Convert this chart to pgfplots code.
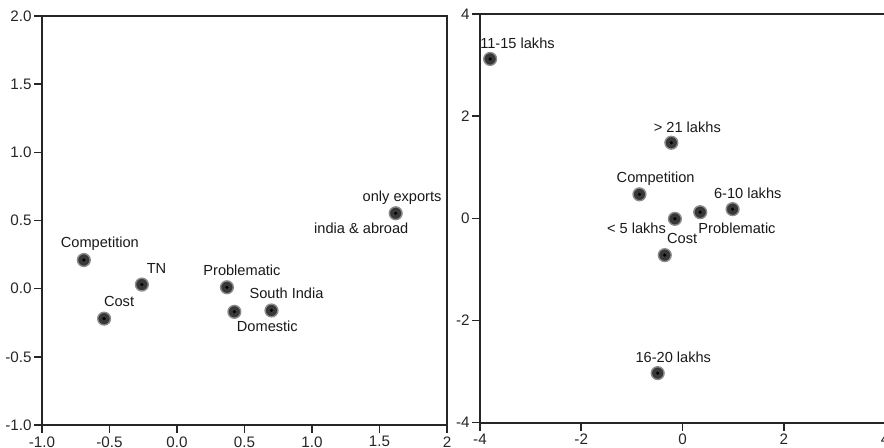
\documentclass[border=0pt]{standalone}
\usepackage{pgfplots}
\pgfplotsset{compat=1.18}
\usepackage{fontspec}
\setmainfont{Liberation Sans}
\newcommand{\lbl}{\fontsize{7.3}{8}\selectfont}
\tikzset{lab/.style={font=\lbl, text=black!90, inner sep=0pt}}
\begin{document}
\begin{tikzpicture}
\path[use as bounding box] (0,0) rectangle (442pt,224pt);
\pgfplotsset{
  mystyle/.style={
    scale only axis, clip=false,
    axis line style={black!85,line width=1pt},
    tick style={black!85,line width=0.8pt},
    tick align=outside, major tick length=4pt,
    xtick pos=left, ytick pos=left,
    ticklabel style={font=\fontsize{7.6}{8}\selectfont, text=black!85},
    xticklabel style={inner sep=1.5pt},
    yticklabel style={inner sep=1pt},
  },
  dots/.style={only marks, mark=*, mark size=3.2pt,
    mark options={fill=black!78, draw=black!45, line width=0.7pt}},
  cdots/.style={only marks, mark=*, mark size=0.6pt,
    mark options={fill=black, draw=black}},
}
% ---------------- left panel ----------------
\begin{axis}[mystyle,
  at={(21pt,11.5pt)}, anchor=south west,
  width=202.5pt, height=204.5pt,
  xmin=-1, xmax=2, ymin=-1, ymax=2,
  xtick={-1,-0.5,0,0.5,1,1.5,2},
  xticklabels={-1.0,-0.5,0.0,0.5,1.0,1.5,2},
  ytick={-1,-0.5,0,0.5,1,1.5,2},
  yticklabels={-1.0,-0.5,0.0,0.5,1.0,1.5,2.0},
]
\addplot[dots] coordinates {
  (-0.69,0.21) (-0.26,0.03) (-0.54,-0.22) (0.37,0.01)
  (0.425,-0.17) (0.70,-0.16) (1.62,0.553)};
\addplot[cdots] coordinates {
  (-0.69,0.21) (-0.26,0.03) (-0.54,-0.22) (0.37,0.01)
  (0.425,-0.17) (0.70,-0.16) (1.62,0.553)};
\node[lab] at ([shift={(8pt,8.2pt)}]axis cs:-0.69,0.21) {Competition};
\node[lab] at ([shift={(7.3pt,7.8pt)}]axis cs:-0.26,0.03) {TN};
\node[lab] at ([shift={(7.5pt,8.7pt)}]axis cs:-0.54,-0.22) {Cost};
\node[lab] at ([shift={(7.5pt,8.3pt)}]axis cs:0.37,0.01) {Problematic};
\node[lab] at ([shift={(7.5pt,8.5pt)}]axis cs:0.70,-0.16) {South India};
\node[lab] at ([shift={(16.5pt,-7.2pt)}]axis cs:0.425,-0.17) {Domestic};
\node[lab,anchor=west] at ([shift={(-16.7pt,7.7pt)}]axis cs:1.62,0.553) {only exports};
\node[lab] at ([shift={(-17.2pt,-7.3pt)}]axis cs:1.62,0.553) {india \& abroad};
\end{axis}
% ---------------- right panel ----------------
\begin{axis}[mystyle,
  at={(240pt,12.65pt)}, anchor=south west,
  width=202.5pt, height=204.35pt,
  xmin=-4, xmax=4, ymin=-4, ymax=4,
  xtick={-4,-2,0,2,4}, xticklabels={-4,-2,0,2,4},
  ytick={-4,-2,0,2,4}, yticklabels={-4,-2,0,2,4},
]
\addplot[dots] coordinates {
  (-3.80,3.12) (-0.22,1.48) (-0.85,0.47) (-0.15,-0.01)
  (0.35,0.12) (0.99,0.18) (-0.35,-0.72) (-0.49,-3.03)};
\addplot[cdots] coordinates {
  (-3.80,3.12) (-0.22,1.48) (-0.85,0.47) (-0.15,-0.01)
  (0.35,0.12) (0.99,0.18) (-0.35,-0.72) (-0.49,-3.03)};
\node[lab] at ([shift={(13.7pt,8pt)}]axis cs:-3.80,3.12) {11-15 lakhs};
\node[lab] at ([shift={(8pt,7.7pt)}]axis cs:-0.22,1.48) {> 21 lakhs};
\node[lab] at ([shift={(8.1pt,7.7pt)}]axis cs:-0.85,0.47) {Competition};
\node[lab] at ([shift={(7.6pt,7.7pt)}]axis cs:0.99,0.18) {6-10 lakhs};
\node[lab] at ([shift={(-19.2pt,-4.5pt)}]axis cs:-0.15,-0.01) {< 5 lakhs};
\node[lab] at ([shift={(18.4pt,-7.8pt)}]axis cs:0.35,0.12) {Problematic};
\node[lab] at ([shift={(8.7pt,8.2pt)}]axis cs:-0.35,-0.72) {Cost};
\node[lab] at ([shift={(7.8pt,8pt)}]axis cs:-0.49,-3.03) {16-20 lakhs};
\end{axis}
\end{tikzpicture}
\end{document}
